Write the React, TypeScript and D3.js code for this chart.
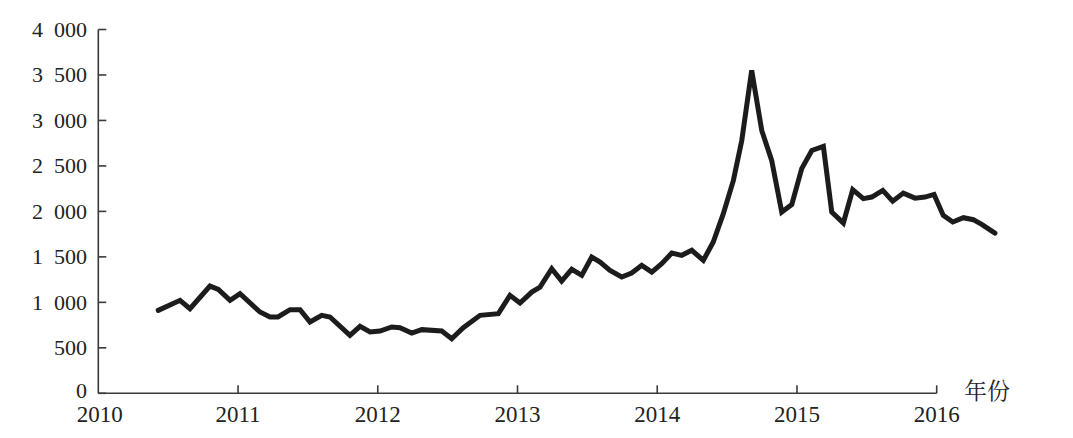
import React from "react";
import * as d3 from "d3";

// Time positions (decimal years) and values
const years: number[] = [
  2010.429, 2010.585, 2010.656, 2010.799, 2010.859, 2010.943, 2011.014, 2011.157,
  2011.229, 2011.286, 2011.372, 2011.444, 2011.515, 2011.599, 2011.658, 2011.801,
  2011.873, 2011.945, 2012.016, 2012.1, 2012.159, 2012.243, 2012.315, 2012.458,
  2012.529, 2012.612, 2012.732, 2012.863, 2012.946, 2013.018, 2013.102, 2013.161,
  2013.245, 2013.316, 2013.388, 2013.46, 2013.531, 2013.591, 2013.662, 2013.746,
  2013.817, 2013.889, 2013.961, 2014.032, 2014.104, 2014.175, 2014.247, 2014.33,
  2014.401, 2014.473, 2014.545, 2014.605, 2014.676, 2014.748, 2014.819, 2014.891,
  2014.963, 2015.034, 2015.106, 2015.189, 2015.249, 2015.332, 2015.399, 2015.475,
  2015.535, 2015.614, 2015.685, 2015.761, 2015.845, 2015.916, 2015.981, 2016.047,
  2016.115, 2016.191, 2016.262, 2016.322, 2016.417,
];

const values: number[] = [
  912, 1022, 930, 1179, 1143, 1022, 1095, 894,
  839, 839, 920, 920, 784, 857, 839, 637,
  736, 674, 685, 729, 722, 663, 700, 685,
  600, 722, 857, 876, 1077, 992, 1113, 1168,
  1370, 1234, 1363, 1297, 1498, 1443, 1352, 1279,
  1322, 1407, 1333, 1425, 1542, 1517, 1572, 1462,
  1663, 1975, 2341, 2780, 3550, 2890, 2561, 1993,
  2077, 2470, 2670, 2714, 1993, 1872, 2239, 2140,
  2158, 2231, 2113, 2201, 2146, 2158, 2187, 1956,
  1883, 1931, 1909, 1857, 1762,
];

const yTicks: number[] = [0, 500, 1000, 1500, 2000, 2500, 3000, 3500, 4000];
const xTicks: number[] = [2010, 2011, 2012, 2013, 2014, 2015, 2016];
const xAxisTitle = "年份";

const W = 1073;
const H = 438;

const fmtY = (v: number) => {
  if (v < 1000) return String(v);
  const s = String(v);
  return s.slice(0, s.length - 3) + "\u2002" + s.slice(s.length - 3);
};

export default function App() {
  const x = d3.scaleLinear().domain([2010, 2016]).range([98.3, 936.7]);
  const y = d3.scaleLinear().domain([0, 4000]).range([393.3, 29.5]);

  const data = years.map((t, i) => ({ t, v: values[i] }));
  const line = d3
    .line<{ t: number; v: number }>()
    .x((d) => x(d.t))
    .y((d) => y(d.v));

  const axisColor = "#3a3a3a";
  const serif: React.CSSProperties = { fontFamily: '"Liberation Serif"' };

  return (
    <svg
      width={W}
      height={H}
      viewBox={`0 0 ${W} ${H}`}
      style={{ position: "absolute", left: 0, top: 0, background: "#fff" }}
    >
      <rect x={0} y={0} width={W} height={H} fill="#fff" />
      {/* Y axis */}
      <line x1={x(2010)} x2={x(2010)} y1={y(4000)} y2={y(0)} stroke={axisColor} strokeWidth={1.6} />
      {yTicks.map((t) => (
        <g key={"y" + t}>
          <line x1={x(2010)} x2={x(2010) + 8} y1={y(t)} y2={y(t)} stroke={axisColor} strokeWidth={1.6} />
          <text
            x={87}
            y={y(t) + (t === 0 ? 4.5 : 7.5)}
            textAnchor="end"
            style={serif}
            fontSize={22}
            fill="#222"
          >
            {fmtY(t)}
          </text>
        </g>
      ))}
      {/* X axis */}
      <line x1={x(2010)} x2={x(2016)} y1={y(0)} y2={y(0)} stroke={axisColor} strokeWidth={1.6} />
      {xTicks.map((t) => (
        <g key={"x" + t}>
          {t > 2010 && (
            <line x1={x(t)} x2={x(t)} y1={y(0)} y2={y(0) - 8} stroke={axisColor} strokeWidth={1.6} />
          )}
          <text
            x={x(t) + (t === 2010 ? 1.5 : 0)}
            y={422}
            textAnchor="middle"
            style={serif}
            fontSize={23}
            fill="#222"
          >
            {t}
          </text>
        </g>
      ))}
      <text
        x={964}
        y={399}
        style={{ fontFamily: '"Noto Serif CJK SC"' }}
        fontSize={23}
        fill="#222"
      >
        {xAxisTitle}
      </text>
      {/* Series */}
      <path
        d={line(data) || ""}
        fill="none"
        stroke="#1c1c1c"
        strokeWidth={5}
        strokeLinejoin="miter"
        strokeMiterlimit={6}
        strokeLinecap="round"
      />
    </svg>
  );
}
